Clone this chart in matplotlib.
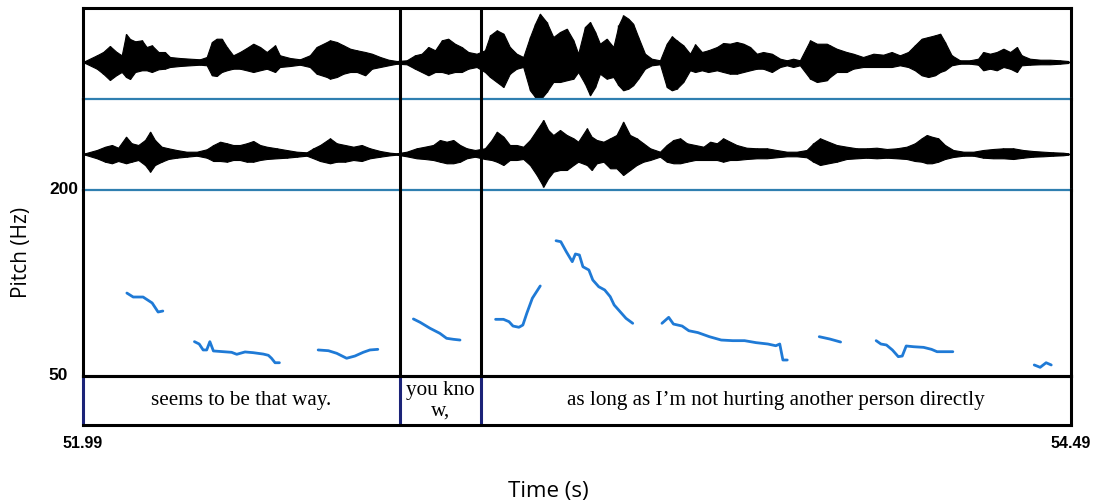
import numpy as np
import matplotlib.pyplot as plt

# time range and interval tier
t_start, t_end = 51.99, 54.49
boundaries = [52.792, 52.997]
words = ["seems to be that way.", "you kno\nw,",
         "as long as I\u2019m not hurting another person directly"]
pitch_range = [50, 200]

# waveform envelopes (channel 1 and 2), amplitude in arbitrary units
wave1_t = [51.995, 52.025, 52.041, 52.058, 52.075, 52.088, 52.099, 52.109, 52.122, 52.139,
           52.151, 52.164, 52.181, 52.197, 52.210, 52.235, 52.261, 52.286, 52.303, 52.316,
           52.328, 52.341, 52.354, 52.370, 52.387, 52.404, 52.421, 52.438, 52.455, 52.476,
           52.488, 52.514, 52.539, 52.564, 52.581, 52.607, 52.615, 52.632, 52.649, 52.666,
           52.683, 52.704, 52.721, 52.742, 52.763, 52.784, 52.809, 52.830, 52.847, 52.864,
           52.881, 52.898, 52.914, 52.931, 52.948, 52.965, 52.986, 53.007, 53.020, 53.037,
           53.054, 53.070, 53.087, 53.104, 53.121, 53.134, 53.146, 53.163, 53.180, 53.197,
           53.214, 53.231, 53.243, 53.260, 53.273, 53.286, 53.298, 53.315, 53.332, 53.345,
           53.357, 53.370, 53.382, 53.395, 53.412, 53.429, 53.450, 53.467, 53.480, 53.492,
           53.509, 53.526, 53.539, 53.556, 53.572, 53.594, 53.610, 53.627, 53.644, 53.661,
           53.678, 53.695, 53.711, 53.733, 53.754, 53.771, 53.787, 53.804, 53.830, 53.847,
           53.872, 53.880, 53.897, 53.922, 53.939, 53.964, 53.990, 54.015, 54.036, 54.057,
           54.078, 54.095, 54.112, 54.129, 54.146, 54.159, 54.171, 54.188, 54.209, 54.234,
           54.255, 54.268, 54.285, 54.302, 54.319, 54.336, 54.353, 54.365, 54.386, 54.412,
           54.437, 54.462, 54.483]
wave1_up = [1, 6.7, 10, 16, 10, 6.7, 28, 23, 20.7, 21.7,
            15, 16.7, 10, 10, 5, 4, 3.3, 2.7, 5, 20,
            23.3, 23.3, 15, 6.7, 10, 14, 18.3, 15, 10, 16.7,
            6.7, 4, 2.7, 6.7, 15, 20, 21.7, 20, 16.7, 13.3,
            11.7, 10, 8.3, 5, 2.3, 1, 1.7, 6.7, 8.3, 15,
            11.7, 21.7, 23.3, 18.3, 15, 10, 8.3, 11.7, 26.7, 31.7,
            28.3, 15, 8.3, 5, 25, 38.3, 48.3, 40, 25, 30,
            33.3, 21.7, 8.3, 35, 40, 30, 18.3, 23.3, 15, 36.7,
            46.7, 43.3, 38.3, 25, 8.3, 3.3, 1.7, 18.3, 25.7, 21.7,
            16.7, 8.3, 17.7, 10, 11.7, 15, 19, 18.3, 20, 18.3,
            15, 8.3, 10, 8.3, 3.3, 1.7, 3.3, 1.7, 21.7, 18.3,
            18.3, 16.7, 13.3, 10, 8.3, 5, 8.3, 7.3, 10, 6.7,
            10, 16.7, 23.3, 25, 26.7, 28.3, 20, 6.7, 1.7, 1.7,
            3.3, 10, 8.3, 10, 13.3, 10, 15, 6.7, 3.3, 2.3,
            2.3, 1.7, 1]
wave1_lo = [1, 6.7, 11.7, 18, 13, 10, 15, 17, 10, 8.3,
            8.3, 10, 7.3, 6.7, 5, 4, 3.3, 2.7, 3.3, 13.3,
            14, 10, 8.3, 6.7, 6.7, 8.3, 10, 8.3, 6.7, 10,
            5, 4, 2.7, 5, 11.7, 15, 16.7, 15, 11.7, 10,
            10, 13.3, 6.7, 5, 3.3, 1.7, 2.3, 6.7, 10, 13.3,
            10, 10, 11.7, 10, 10, 6.7, 5, 10, 15, 20,
            25, 11.7, 6.7, 5, 28.3, 35, 38.3, 30, 20, 20,
            18.3, 16.7, 10, 21.7, 33.3, 25, 11.7, 16.7, 15, 23.3,
            28.3, 26.7, 23.3, 16.7, 6.7, 3.3, 2.3, 25, 28.3, 26.7,
            20, 8.3, 10, 8.3, 10, 8.3, 10, 11.7, 11.7, 10,
            8.3, 6.7, 6.7, 10, 5, 3.3, 5, 3.3, 16.7, 20,
            18.3, 15, 10, 10, 6.7, 5, 5, 5, 5, 3.3,
            5, 8.3, 13.3, 15, 13.3, 10, 8.3, 3.3, 1.7, 1.7,
            2.7, 8.3, 6.7, 8.3, 5, 6.7, 10, 3.3, 2.7, 2.3,
            2.3, 1.7, 1]

wave2_t = [51.995, 52.025, 52.046, 52.063, 52.079, 52.099, 52.113, 52.130, 52.147, 52.160,
           52.172, 52.189, 52.206, 52.227, 52.252, 52.278, 52.303, 52.320, 52.337, 52.354,
           52.370, 52.387, 52.404, 52.421, 52.438, 52.455, 52.480, 52.505, 52.531, 52.556,
           52.573, 52.590, 52.615, 52.632, 52.653, 52.674, 52.695, 52.716, 52.742, 52.767,
           52.784, 52.809, 52.834, 52.855, 52.876, 52.893, 52.910, 52.927, 52.944, 52.961,
           52.982, 53.007, 53.024, 53.037, 53.054, 53.070, 53.087, 53.104, 53.121, 53.138,
           53.155, 53.167, 53.180, 53.197, 53.214, 53.231, 53.243, 53.265, 53.277, 53.290,
           53.307, 53.324, 53.340, 53.357, 53.374, 53.391, 53.408, 53.425, 53.450, 53.467,
           53.484, 53.501, 53.518, 53.539, 53.560, 53.577, 53.594, 53.610, 53.627, 53.644,
           53.669, 53.695, 53.720, 53.745, 53.771, 53.796, 53.821, 53.838, 53.855, 53.876,
           53.897, 53.922, 53.948, 53.973, 53.998, 54.024, 54.049, 54.074, 54.095, 54.112,
           54.125, 54.138, 54.154, 54.171, 54.192, 54.218, 54.243, 54.268, 54.293, 54.319,
           54.344, 54.369, 54.394, 54.420, 54.445, 54.470, 54.483]
wave2_up = [0.7, 4, 7.3, 9, 6.3, 17.3, 10.7, 9, 14, 22.3,
            14, 7.3, 5.7, 4, 2.3, 2.3, 4.7, 9, 12.3, 10.7,
            9, 9, 10.7, 13, 9, 7.3, 5.7, 4, 2.3, 1.7,
            5.7, 9, 15.7, 10.7, 9, 7.3, 9, 5.7, 3, 1.3,
            0.7, 2.3, 5.7, 7.3, 9, 14, 12.3, 14, 9, 5.7,
            4, 5.7, 14, 22.3, 17.3, 9, 9, 7.3, 14, 24,
            34, 24, 19, 24, 19, 15.7, 12.3, 25.7, 17.3, 14,
            12.3, 15.7, 19, 32.3, 19, 15.7, 10.7, 5.7, 2.3, 9,
            14, 15.7, 10.7, 9, 7.3, 12.3, 10.7, 15.7, 12.3, 9,
            6.3, 5.7, 5.7, 4, 2.3, 2.3, 4, 10.7, 15.7, 12.3,
            9, 7.3, 5.7, 5.7, 6.3, 5, 5.7, 7.3, 10.7, 15.7,
            19, 17.3, 15.7, 9, 4, 2.3, 2.3, 4, 5, 5.7,
            5.7, 4, 3, 2.3, 1.7, 1.3, 0.7]
wave2_lo = [0.7, 4.3, 7.7, 9.3, 7, 9.3, 7.7, 6, 11, 17.7,
            11, 7.7, 5, 3.7, 2.7, 1.7, 3.7, 7, 7, 7.7,
            6, 6, 7.7, 7.7, 6, 5, 4.3, 3.7, 2.7, 1.7,
            4.3, 7, 9.3, 7.7, 7.7, 6, 7, 4.3, 2.7, 1.3,
            0.7, 2.3, 4.3, 5, 6, 7.7, 9.3, 9.3, 7.7, 4.3,
            2.7, 5, 6, 7.7, 11, 6, 6, 5, 11, 21,
            32.7, 24.3, 17.7, 16, 16, 11, 7.7, 11, 16, 9.3,
            7.7, 14.3, 14.3, 21, 16, 11, 7.7, 6, 2.7, 7.7,
            9.3, 9.3, 7.7, 6, 6, 6, 6, 7.7, 6, 6,
            5, 4.3, 4.3, 3.3, 2.3, 2.3, 3.3, 7.7, 11, 9.3,
            7.7, 5, 4.3, 3.7, 4.3, 3.7, 4.3, 5, 7, 7.7,
            9.3, 9.3, 7.7, 5, 3, 1.7, 1.7, 3.7, 4.3, 4.3,
            5, 3.7, 2.7, 2.3, 1.7, 1.3, 0.7]

# pitch track (Hz), one list per voiced stretch
pitch_t = [
    [52.101, 52.117, 52.142, 52.165, 52.180, 52.192],
    [52.272, 52.284, 52.294, 52.303, 52.311, 52.320, 52.345, 52.366, 52.379, 52.400,
     52.421, 52.446, 52.459, 52.467, 52.476, 52.487],
    [52.585, 52.611, 52.632, 52.657, 52.678, 52.699, 52.716, 52.736],
    [52.826, 52.843, 52.868, 52.893, 52.910, 52.927, 52.944],
    [53.034, 53.054, 53.068, 53.078, 53.093, 53.103, 53.113, 53.127, 53.147],
    [53.187, 53.199, 53.213, 53.228, 53.236, 53.246, 53.255, 53.270, 53.280, 53.295,
     53.310, 53.324, 53.334, 53.349, 53.364, 53.381],
    [53.455, 53.472, 53.484, 53.506, 53.523, 53.546, 53.575, 53.605, 53.634, 53.664,
     53.693, 53.723, 53.743, 53.753, 53.761, 53.772],
    [53.853, 53.880, 53.907],
    [53.997, 54.009, 54.023, 54.038, 54.053, 54.063, 54.073, 54.092, 54.117, 54.137,
     54.151, 54.171, 54.191],
    [54.397, 54.412, 54.427, 54.440],
]
pitch_hz = [
    [116.9, 113.7, 113.7, 108.9, 101.6, 102.4],
    [77.7, 75.8, 71.0, 71.0, 77.7, 70.2, 69.6, 69.1, 67.5, 69.4,
     68.8, 67.7, 66.7, 64.3, 60.7, 60.7],
    [71.0, 70.4, 68.3, 64.3, 66.1, 69.1, 71.0, 71.5],
    [96.0, 93.3, 88.5, 84.4, 80.4, 79.6, 79.0],
    [95.7, 95.7, 93.8, 90.3, 89.3, 91.1, 100.6, 112.7, 122.6],
    [159.1, 158.3, 150.2, 142.2, 148.4, 147.6, 138.1, 135.5, 127.4, 122.0,
     119.4, 114.0, 107.3, 101.9, 96.5, 92.5],
    [92.5, 97.3, 91.9, 90.3, 86.5, 85.0, 81.7, 79.0, 78.5, 78.5,
     76.9, 75.8, 74.4, 75.8, 62.9, 62.9],
    [81.7, 79.8, 77.4],
    [78.5, 75.8, 75.0, 71.0, 65.6, 66.1, 74.2, 73.6, 73.1, 71.5,
     69.6, 69.6, 69.6],
    [58.9, 57.0, 60.7, 58.9],
]

frame_lw = 2.2
blue_line = '#2f7fb0'
pitch_col = '#1f7ad6'
navy = '#1b2378'

W, H = 1099, 504
fig = plt.figure(figsize=(W / 100, H / 100), dpi=100)


def px_axes(y_top, y_bot, x_left=83, x_right=1071):
    a = fig.add_axes([x_left / W, 1 - y_bot / H, (x_right - x_left) / W, (y_bot - y_top) / H])
    a.patch.set_visible(False)
    return a


ax_w1 = px_axes(8, 99)
ax_w2 = px_axes(99, 190)
ax_p = px_axes(190, 376)
ax_tier = px_axes(376, 425)

for ax, t, up, lo, lims in [(ax_w1, wave1_t, wave1_up, wave1_lo, (-37, 54)),
                            (ax_w2, wave2_t, wave2_up, wave2_lo, (-36, 55))]:
    t = np.array(t)
    ax.fill_between(t, -np.array(lo), np.array(up), color='black', lw=0.8)
    ax.vlines(t, -np.array(lo), np.array(up), color='black', lw=1.0)
    ax.plot([t_start, t_end], [0, 0], color='black', lw=1.0)
    ax.set_ylim(*lims)
    ax.set_xlim(t_start, t_end)
    ax.set_xticks([])
    ax.set_yticks([])
    for s in ['left', 'right', 'top']:
        ax.spines[s].set_linewidth(frame_lw)
    ax.spines['bottom'].set_color(blue_line)
    ax.spines['bottom'].set_linewidth(1.6)
    ax.spines['bottom'].set_zorder(5)
ax_w2.spines['top'].set_visible(False)

for ts, fs in zip(pitch_t, pitch_hz):
    ax_p.plot(ts, fs, color=pitch_col, lw=2.0, solid_capstyle='round')
ax_p.set_xlim(t_start, t_end)
ax_p.set_ylim(pitch_range[0], pitch_range[1])
ax_p.set_xticks([])
ax_p.set_yticks([])
ax_p.spines['top'].set_visible(False)
for s in ['left', 'right', 'bottom']:
    ax_p.spines[s].set_linewidth(frame_lw)

for ax in (ax_w1, ax_w2, ax_p):
    for b in boundaries:
        ax.axvline(b, color='black', lw=frame_lw, zorder=6)

ax_p.text(-0.005, pitch_range[1], str(pitch_range[1]), transform=ax_p.get_yaxis_transform(),
          ha='right', va='center', fontsize=12.5, fontweight='bold', family='Liberation Sans')
ax_p.text(-0.015, pitch_range[0], str(pitch_range[0]), transform=ax_p.get_yaxis_transform(),
          ha='right', va='center', fontsize=12.5, fontweight='bold', family='Liberation Sans')

# text tier
edges = [t_start] + boundaries + [t_end]
ax_tier.set_xlim(t_start, t_end)
ax_tier.set_ylim(0, 1)
for i, w in enumerate(words):
    mid = (edges[i] + edges[i + 1]) / 2
    ax_tier.text(mid, 0.5, w, ha='center', va='center', fontsize=15.2,
                 family='Liberation Serif', linespacing=1.1)
for b in boundaries:
    ax_tier.axvline(b, color=navy, lw=frame_lw)
for s in ax_tier.spines.values():
    s.set_linewidth(frame_lw)
ax_tier.spines['left'].set_color(navy)
ax_tier.set_yticks([])
ax_tier.set_xticks([t_start, t_end])
ax_tier.set_xticklabels([f'{t_start:.2f}', f'{t_end:.2f}'], fontsize=11.5,
                        fontweight='bold', family='Liberation Sans')
ax_tier.tick_params(axis='x', length=0, pad=8)

fig.text(548 / W, 1 - 491 / H, 'Time (s)', ha='center', va='center',
         fontsize=16, family='Open Sans')
fig.text(22 / W, 1 - 252 / H, 'Pitch (Hz)', ha='center', va='center',
         rotation=90, fontsize=15, family='Open Sans')

fig.savefig('out.png', dpi=100)
